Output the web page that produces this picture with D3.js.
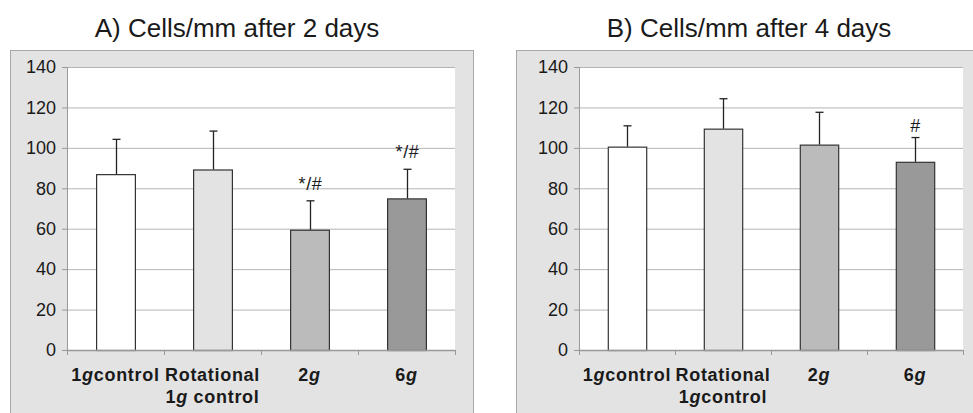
<!DOCTYPE html>
<html>
<head>
<meta charset="utf-8">
<script src="https://cdn.jsdelivr.net/npm/d3@7"></script>
<style>
  body { margin: 0; background: #fff; }
  text { font-family: "Liberation Sans", Arial, sans-serif; fill: #1a1a1a; }
  .domain { stroke: #999; }
  .y-axis .tick line { stroke: #999; }
  .grid .tick line { stroke: #b4b4b4; }
  .grid .domain { display: none; }
</style>
</head>
<body>
<div id="wrapper"></div>
<script>
// access data
const categories = ['1g', 'rot', '2g', '6g'];
const labelsA = [['1<i>g</i>control'], ['Rotational', '1<i>g</i> control'], ['2<i>g</i>'], ['6<i>g</i>']];
const labelsB = [['1<i>g</i>control'], ['Rotational', '1<i>g</i>control'], ['2<i>g</i>'], ['6<i>g</i>']];
const meansA = [87, 89.3, 59.5, 75];
const errorsA = [17.2, 19, 14.3, 14.4];
const marksA = ['', '', '*/#', '*/#'];
const meansB = [100.6, 109.5, 101.6, 93.1];
const errorsB = [10.3, 14.8, 16, 12];
const marksB = ['', '', '', '#'];
const yTicks = [0, 20, 40, 60, 80, 100, 120, 140];
const barColors = ['#ffffff', '#e3e3e3', '#bbbbbb', '#999999'];

const wrapper = d3
  .select('#wrapper')
  .append('svg')
  .attr('width', 973)
  .attr('height', 413);

function drawPanel(p) {
  const { means, errors, marks, labels } = p;

  // background box
  wrapper
    .append('rect')
    .attr('x', p.box[0] + 0.5)
    .attr('y', p.box[1] + 0.5)
    .attr('width', p.box[2])
    .attr('height', p.box[3])
    .attr('fill', '#e3e3e3')
    .attr('stroke', '#a8a8a8');

  wrapper
    .append('text')
    .attr('x', p.titleX)
    .attr('y', 37)
    .attr('text-anchor', 'middle')
    .style('font-size', '26px')
    .text(p.title);

  const xScale = d3
    .scaleBand()
    .domain(categories)
    .range([p.left, p.right])
    .paddingInner(0.6)
    .paddingOuter(0.3);

  const yScale = d3
    .scaleLinear()
    .domain([0, 140])
    .range([p.bottom, p.top]);

  wrapper
    .append('rect')
    .attr('x', p.left)
    .attr('y', p.top)
    .attr('width', p.right - p.left)
    .attr('height', p.bottom - p.top)
    .attr('fill', '#fff');

  // grid
  wrapper
    .append('g')
    .attr('class', 'grid')
    .attr('transform', `translate(${p.left},0)`)
    .call(d3.axisLeft(yScale).tickValues(yTicks.slice(1)).tickSize(-(p.right - p.left)).tickFormat(''));

  // bars
  wrapper
    .append('g')
    .selectAll('rect')
    .data(categories)
    .join('rect')
    .attr('x', d => xScale(d) + 0.5)
    .attr('y', (d, i) => yScale(means[i]) + 0.5)
    .attr('width', xScale.bandwidth())
    .attr('height', (d, i) => p.bottom - yScale(means[i]))
    .attr('fill', (d, i) => barColors[i])
    .attr('stroke', '#333')
    .attr('stroke-width', 1.2);

  // error bars
  const err = wrapper.append('g').attr('stroke', '#222').attr('stroke-width', 1.3);
  categories.forEach((c, i) => {
    const cx = Math.round(xScale(c) + xScale.bandwidth() / 2) + 0.5;
    const yTop = yScale(means[i] + errors[i]);
    err.append('line').attr('x1', cx).attr('x2', cx).attr('y1', yScale(means[i])).attr('y2', yTop);
    err.append('line').attr('x1', cx - 4).attr('x2', cx + 4).attr('y1', yTop).attr('y2', yTop);
    if (marks[i]) {
      wrapper
        .append('text')
        .attr('x', cx)
        .attr('y', yTop - p.markGap)
        .attr('text-anchor', 'middle')
        .style('font-size', '18px')
        .style('letter-spacing', '0.6px')
        .text(marks[i]);
    }
  });

  // y axis
  const yAxis = wrapper
    .append('g')
    .attr('class', 'y-axis')
    .attr('transform', `translate(${p.left},0)`)
    .call(d3.axisLeft(yScale).tickValues(yTicks).tickSize(5).tickPadding(6));
  yAxis.selectAll('text').style('font-size', '18px').attr('fill', '#1a1a1a');

  // x axis line + boundary ticks
  const xAxis = wrapper.append('g');
  xAxis
    .append('line')
    .attr('x1', p.left)
    .attr('x2', p.right)
    .attr('y1', p.bottom + 0.5)
    .attr('y2', p.bottom + 0.5)
    .attr('stroke', '#999')
    .attr('stroke-width', 1.5);
  const step = xScale.step();
  d3.range(categories.length + 1).forEach(k => {
    const tx = Math.round(p.left + k * step) + 0.5;
    xAxis
      .append('line')
      .attr('x1', tx)
      .attr('x2', tx)
      .attr('y1', p.bottom)
      .attr('y2', p.bottom + 5)
      .attr('stroke', '#999');
  });

  // category labels
  categories.forEach((c, i) => {
    const cx = xScale(c) + xScale.bandwidth() / 2;
    labels[i].forEach((line, j) => {
      const t = wrapper
        .append('text')
        .attr('x', cx)
        .attr('y', 381 + j * 22)
        .attr('text-anchor', 'middle')
        .style('font-size', '18px')
        .style('font-weight', 'bold')
        .style('letter-spacing', '0.7px');
      line.split(/(<i>.*?<\/i>)/).filter(s => s).forEach(part => {
        const it = part.startsWith('<i>');
        t.append('tspan')
          .style('font-style', it ? 'italic' : 'normal')
          .text(part.replace(/<\/?i>/g, ''));
      });
    });
  });
}

drawPanel({
  title: 'A) Cells/mm after 2 days',
  titleX: 237,
  box: [10, 50, 463, 380],
  left: 67,
  right: 455,
  top: 67,
  bottom: 350,
  markGap: 11,
  means: meansA,
  errors: errorsA,
  marks: marksA,
  labels: labelsA
});

drawPanel({
  title: 'B) Cells/mm after 4 days',
  titleX: 749,
  box: [516, 50, 480, 380],
  left: 579,
  right: 963,
  top: 67,
  bottom: 350,
  markGap: 6,
  means: meansB,
  errors: errorsB,
  marks: marksB,
  labels: labelsB
});
</script>
</body>
</html>
